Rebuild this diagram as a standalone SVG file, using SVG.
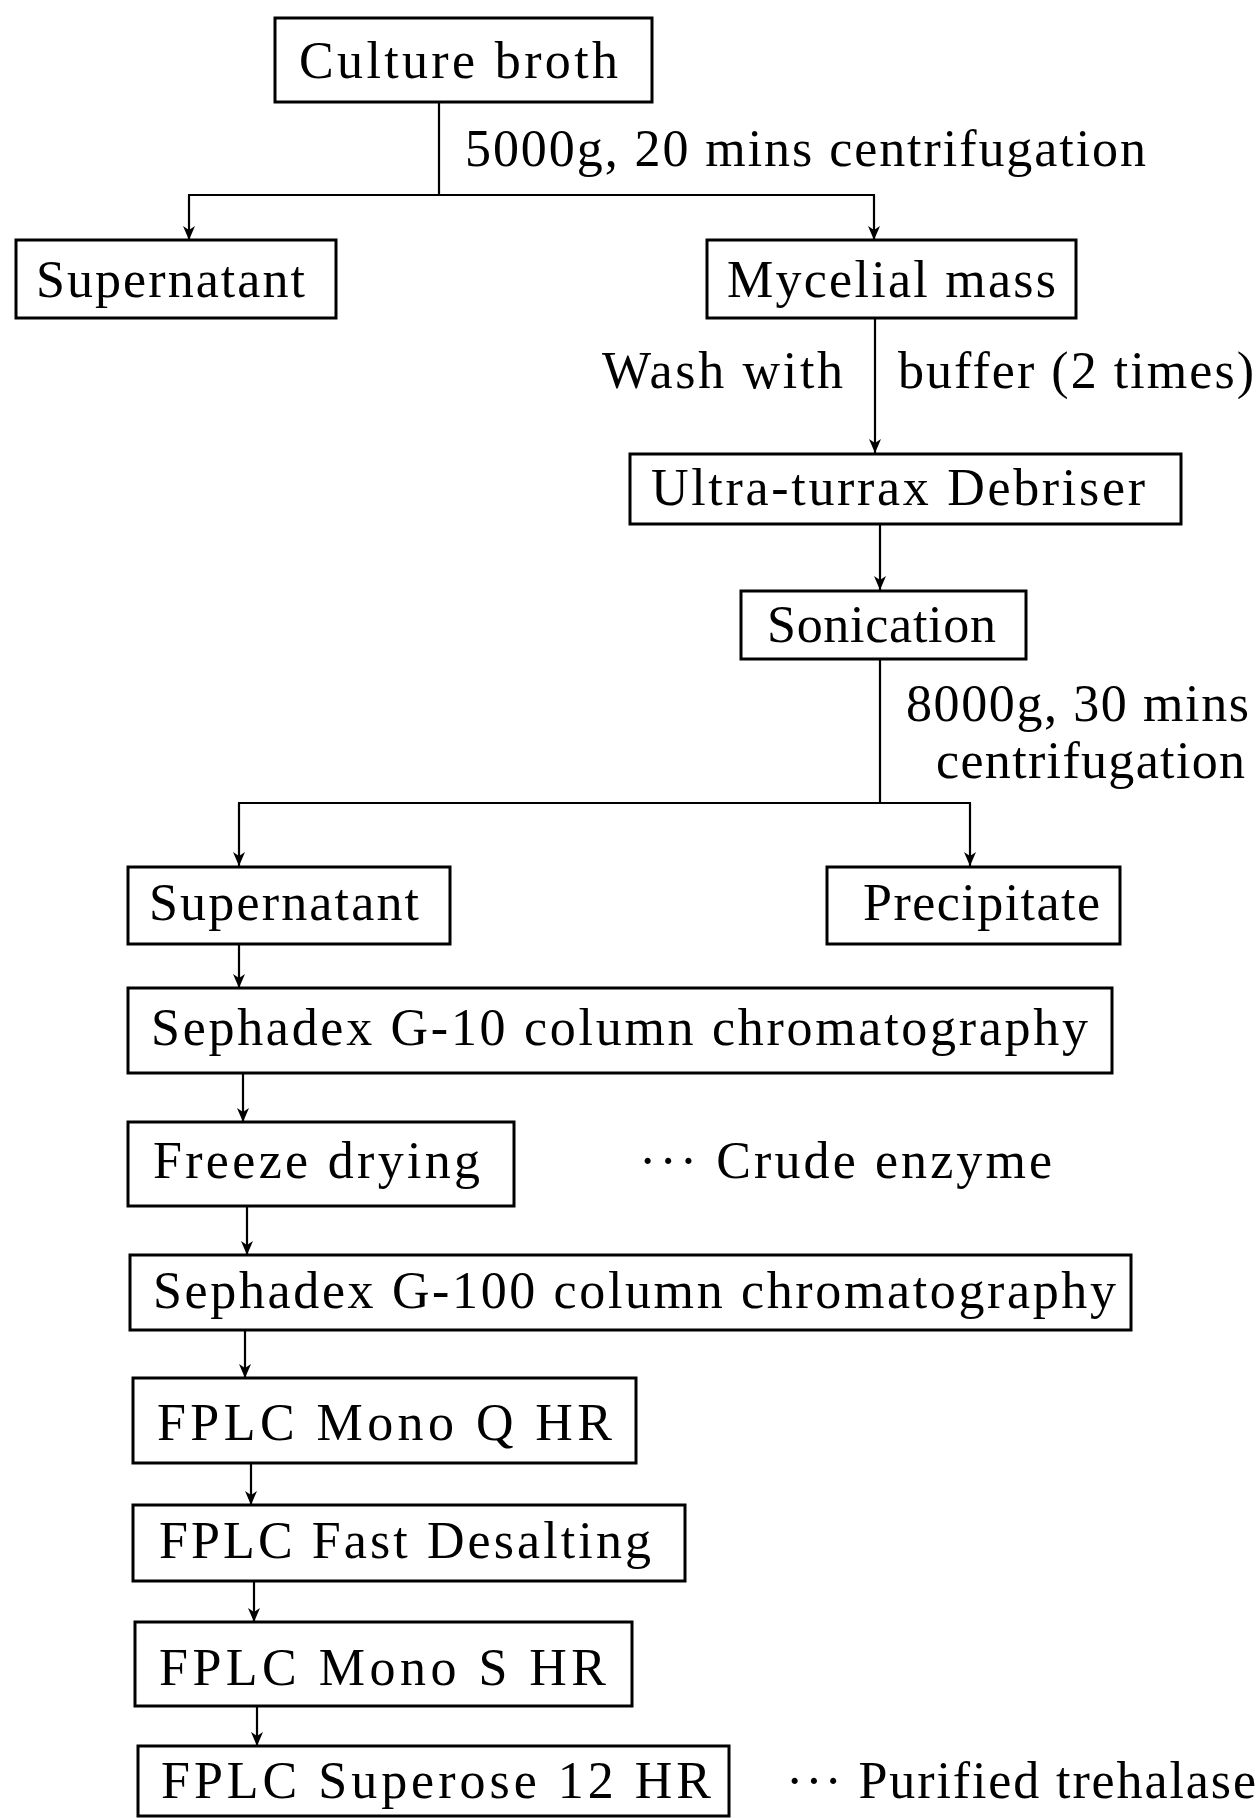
<svg xmlns="http://www.w3.org/2000/svg" width="1259" height="1818" viewBox="0 0 1259 1818">
<defs>
<style>
.box{fill:#fff;stroke:#000;stroke-width:3}
.ln{fill:none;stroke:#000;stroke-width:2.2}
.t{font-family:"Liberation Serif","Times New Roman",serif;font-size:52px;fill:#000}
</style>
<marker id="ah" markerUnits="userSpaceOnUse" markerWidth="16" markerHeight="14" refX="14" refY="7" orient="auto" viewBox="0 0 16 14">
<path d="M0,1 L14,7 L0,13 L4,7 Z" fill="#000"/>
</marker>
</defs>
<rect width="1259" height="1818" fill="#fff"/>
<g id="connectors">
<line class="ln" x1="439" y1="102" x2="439" y2="195"/>
<line class="ln" x1="188" y1="195" x2="875" y2="195"/>
<line class="ln" x1="189" y1="195" x2="189" y2="240" marker-end="url(#ah)"/>
<line class="ln" x1="874" y1="195" x2="874" y2="240" marker-end="url(#ah)"/>
<line class="ln" x1="875" y1="318" x2="875" y2="453" marker-end="url(#ah)"/>
<line class="ln" x1="880" y1="524" x2="880" y2="590" marker-end="url(#ah)"/>
<line class="ln" x1="880" y1="659" x2="880" y2="803"/>
<line class="ln" x1="238" y1="803" x2="971" y2="803"/>
<line class="ln" x1="239" y1="803" x2="239" y2="866" marker-end="url(#ah)"/>
<line class="ln" x1="970" y1="803" x2="970" y2="866" marker-end="url(#ah)"/>
<line class="ln" x1="239" y1="944" x2="239" y2="988" marker-end="url(#ah)"/>
<line class="ln" x1="243" y1="1073" x2="243" y2="1122" marker-end="url(#ah)"/>
<line class="ln" x1="247" y1="1206" x2="247" y2="1255" marker-end="url(#ah)"/>
<line class="ln" x1="245" y1="1330" x2="245" y2="1378" marker-end="url(#ah)"/>
<line class="ln" x1="251" y1="1463" x2="251" y2="1505" marker-end="url(#ah)"/>
<line class="ln" x1="254" y1="1581" x2="254" y2="1622" marker-end="url(#ah)"/>
<line class="ln" x1="257" y1="1706" x2="257" y2="1746" marker-end="url(#ah)"/>
</g>
<g id="labels">
<text class="t" x="465" y="166" textLength="681" lengthAdjust="spacing">5000g, 20 mins centrifugation</text>
<text class="t" x="602" y="388" textLength="241" lengthAdjust="spacing">Wash with</text>
<text class="t" x="898" y="388" textLength="356" lengthAdjust="spacing">buffer (2 times)</text>
<text class="t" x="906" y="721" textLength="343" lengthAdjust="spacing">8000g, 30 mins</text>
<text class="t" x="936" y="778" textLength="309" lengthAdjust="spacing">centrifugation</text>
<text class="t" x="639" y="1178" textLength="413" lengthAdjust="spacing">··· Crude enzyme</text>
<text class="t" x="786" y="1798" textLength="470" lengthAdjust="spacing">··· Purified trehalase</text>
</g>
<g id="culture-broth">
<rect class="box" x="275" y="18" width="377" height="84"/>
<text class="t" x="299" y="78" textLength="319" lengthAdjust="spacing">Culture broth</text>
</g>
<g id="supernatant-1">
<rect class="box" x="16" y="240" width="320" height="78"/>
<text class="t" x="36" y="297" textLength="269" lengthAdjust="spacing">Supernatant</text>
</g>
<g id="mycelial-mass">
<rect class="box" x="707" y="240" width="369" height="78"/>
<text class="t" x="727" y="297" textLength="329" lengthAdjust="spacing">Mycelial mass</text>
</g>
<g id="ultra-turrax">
<rect class="box" x="630" y="454" width="551" height="70"/>
<text class="t" x="651" y="505" textLength="494" lengthAdjust="spacing">Ultra-turrax Debriser</text>
</g>
<g id="sonication">
<rect class="box" x="741" y="591" width="285" height="68"/>
<text class="t" x="767" y="642" textLength="229" lengthAdjust="spacing">Sonication</text>
</g>
<g id="supernatant-2">
<rect class="box" x="128" y="867" width="322" height="77"/>
<text class="t" x="149" y="920" textLength="270" lengthAdjust="spacing">Supernatant</text>
</g>
<g id="precipitate">
<rect class="box" x="827" y="867" width="293" height="77"/>
<text class="t" x="863" y="920" textLength="237" lengthAdjust="spacing">Precipitate</text>
</g>
<g id="sephadex-g10">
<rect class="box" x="128" y="988" width="984" height="85"/>
<text class="t" x="151" y="1045" textLength="937" lengthAdjust="spacing">Sephadex G-10 column chromatography</text>
</g>
<g id="freeze-drying">
<rect class="box" x="128" y="1122" width="386" height="84"/>
<text class="t" x="153" y="1178" textLength="327" lengthAdjust="spacing">Freeze drying</text>
</g>
<g id="sephadex-g100">
<rect class="box" x="130" y="1255" width="1001" height="75"/>
<text class="t" x="153" y="1308" textLength="963" lengthAdjust="spacing">Sephadex G-100 column chromatography</text>
</g>
<g id="mono-q">
<rect class="box" x="133" y="1378" width="503" height="85"/>
<text class="t" x="157" y="1440" textLength="455" lengthAdjust="spacing">FPLC Mono Q HR</text>
</g>
<g id="fast-desalting">
<rect class="box" x="133" y="1505" width="552" height="76"/>
<text class="t" x="159" y="1558" textLength="492" lengthAdjust="spacing">FPLC Fast Desalting</text>
</g>
<g id="mono-s">
<rect class="box" x="135" y="1622" width="497" height="84"/>
<text class="t" x="159" y="1685" textLength="447" lengthAdjust="spacing">FPLC Mono S HR</text>
</g>
<g id="superose">
<rect class="box" x="138" y="1746" width="591" height="70"/>
<text class="t" x="161" y="1798" textLength="550" lengthAdjust="spacing">FPLC Superose 12 HR</text>
</g>
</svg>
